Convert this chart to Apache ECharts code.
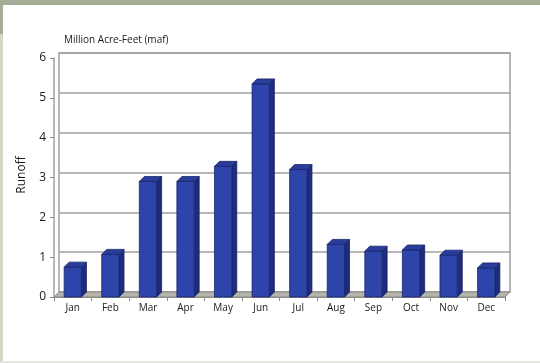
<!DOCTYPE html>
<html>
<head>
<meta charset="utf-8">
<script src="https://cdn.jsdelivr.net/npm/echarts@6/dist/echarts.min.js"></script>
<style>
body{margin:0;background:#fff;}
#main{width:540px;height:363px;}
</style>
</head>
<body>
<div id="main"></div>
<script>
// 月份
var months = ['Jan', 'Feb', 'Mar', 'Apr', 'May', 'Jun', 'Jul', 'Aug', 'Sep', 'Oct', 'Nov', 'Dec'];
// 径流量 (maf)
var runoff = [0.75, 1.07, 2.9, 2.9, 3.28, 5.35, 3.2, 1.32, 1.15, 1.18, 1.05, 0.73];
var yTicks = [0, 1, 2, 3, 4, 5, 6];

var dx = 5, dy = 5; //3D偏移

var myChart = echarts.init(document.getElementById('main'));

var barData = [];
for (var i = 0; i < months.length; i++) {
	barData.push([i, runoff[i]]);
}

function renderBar(params, api) {
	var c = api.value(0);
	var top = api.coord([c, api.value(1)]);
	var base = api.coord([c, 0]);
	var bw = api.size([1, 0])[0] * 0.46;
	var x = top[0] - dx - bw / 2;
	var fy = top[1] + dy;
	var by = base[1] + dy;
	return {
		type: 'group',
		children: [{
			type: 'polygon',
			shape: {points: [[x + bw, fy], [x + bw + dx, fy - dy], [x + bw + dx, by - dy], [x + bw, by]]},
			style: {fill: '#1f2b7c', stroke: '#18225e', lineWidth: 0.8}
		}, {
			type: 'rect',
			shape: {x: x, y: fy, width: bw, height: by - fy},
			style: {fill: '#2d44aa', stroke: '#1b266c', lineWidth: 0.8}
		}, {
			type: 'polygon',
			shape: {points: [[x, fy], [x + dx, fy - dy], [x + bw + dx, fy - dy], [x + bw, fy]]},
			style: {fill: '#2a3d9a', stroke: '#1b266c', lineWidth: 0.8}
		}]
	};
}

function renderFloor(params, api) {
	var cs = params.coordSys;
	var y = cs.y + cs.height;
	return {
		type: 'polygon',
		shape: {points: [[cs.x, y], [cs.x + cs.width, y], [cs.x + cs.width - dx, y + dy], [cs.x - dx, y + dy]]},
		style: {fill: '#b4b4ac', stroke: '#8c8c86', lineWidth: 1}
	};
}

var option = {
	animation: false,
	textStyle: {fontFamily: 'Open Sans'},
	graphic: [
		{type: 'rect', shape: {x: 0, y: 0, width: 540, height: 5}, style: {fill: '#a5ad96'}, z: 10},
		{type: 'rect', shape: {x: 0, y: 0, width: 3, height: 34}, style: {fill: '#a5ad96'}, z: 10},
		{type: 'rect', shape: {x: 0, y: 34, width: 3, height: 329}, style: {fill: '#d2d7c8'}, z: 10},
		{type: 'rect', shape: {x: 0, y: 361, width: 540, height: 2}, style: {fill: '#e4e6e0'}, z: 10},
		{type: 'text', left: 64, top: 35, style: {text: 'Million Acre-Feet (maf)', fill: '#1a1a1a', font: '10px "Open Sans"'}},
		{type: 'text', x: 22, y: 175, rotation: Math.PI / 2, style: {text: 'Runoff', fill: '#1a1a1a', font: '12px "Open Sans"', align: 'center', verticalAlign: 'middle'}}
	],
	grid: [
		{left: 59, right: 30, top: 53, bottom: 71, show: true, borderColor: '#a0a0a0', borderWidth: 1.5},
		{left: 54, right: 35, top: 58, bottom: 66}
	],
	xAxis: [{
		gridIndex: 0,
		type: 'category',
		data: months,
		axisLine: {show: false},
		axisTick: {show: false},
		axisLabel: {show: false}
	}, {
		gridIndex: 1,
		type: 'category',
		data: months,
		axisLine: {lineStyle: {color: '#8c8c86', width: 1}},
		axisTick: {show: true, length: 4, lineStyle: {color: '#8c8c86'}},
		axisLabel: {color: '#1a1a1a', fontSize: 10, margin: 6}
	}],
	yAxis: [{
		gridIndex: 0,
		type: 'value',
		min: yTicks[0],
		max: yTicks[yTicks.length - 1],
		interval: 1,
		axisLine: {show: false},
		axisTick: {show: false},
		axisLabel: {show: false},
		splitLine: {lineStyle: {color: '#a0a0a0', width: 1.5}}
	}, {
		gridIndex: 1,
		type: 'value',
		min: yTicks[0],
		max: yTicks[yTicks.length - 1],
		interval: 1,
		axisLine: {show: true, lineStyle: {color: '#a0a0a0', width: 1.5}},
		axisTick: {show: true, length: 4, lineStyle: {color: '#8c8c86'}},
		axisLabel: {color: '#1a1a1a', fontSize: 12, margin: 8},
		splitLine: {show: false}
	}],
	series: [{
		type: 'custom',
		xAxisIndex: 0,
		yAxisIndex: 0,
		renderItem: renderFloor,
		data: [[0, 0]],
		z: 1
	}, {
		type: 'custom',
		xAxisIndex: 0,
		yAxisIndex: 0,
		renderItem: renderBar,
		data: barData,
		z: 5
	}]
};
myChart.setOption(option);
</script>
</body>
</html>
